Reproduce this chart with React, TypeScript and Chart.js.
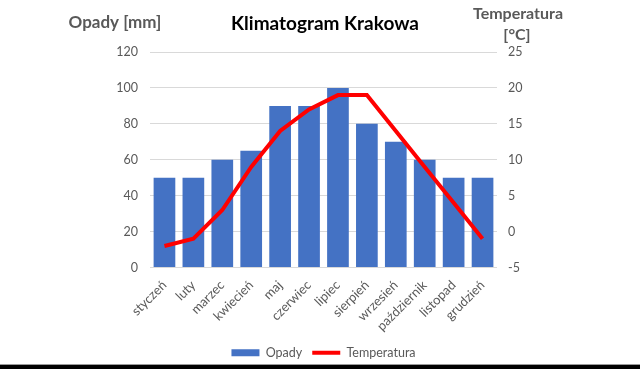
import React, { useEffect, useRef } from "react";
import { Chart, registerables } from "chart.js";

Chart.register(...registerables);

const months = ["styczeń", "luty", "marzec", "kwiecień", "maj", "czerwiec", "lipiec", "sierpień", "wrzesień", "październik", "listopad", "grudzień"];
const precipitation = [50, 50, 60, 65, 90, 90, 100, 80, 70, 60, 50, 50];
const temperature = [-2, -1, 3, 9, 14, 17, 19, 19, 14, 9, 4, -1];
const chartTitle = "Klimatogram Krakowa";
const leftAxisTitle = "Opady [mm]";
const rightAxisTitle = ["Temperatura", "[°C]"];

const FONT = "Lato, 'Open Sans', sans-serif";
const GRAY = "#595959";

const overlayPlugin = {
  id: "overlay",
  afterDraw(chart: any) {
    const ctx = chart.ctx;
    const w = chart.width;
    const h = chart.height;
    ctx.save();
    ctx.textAlign = "center";
    ctx.textBaseline = "alphabetic";
    ctx.fillStyle = "#000000";
    ctx.font = `bold 19px ${FONT}`;
    ctx.fillText(chartTitle, 325, 30);
    ctx.fillStyle = GRAY;
    ctx.font = `bold 17px ${FONT}`;
    ctx.fillText(leftAxisTitle, 115, 28);
    ctx.font = `bold 16px ${FONT}`;
    ctx.fillText(rightAxisTitle[0], 518, 19);
    ctx.fillText(rightAxisTitle[1], 517, 40);
    // bottom frame
    ctx.fillStyle = "#9a9a9a";
    ctx.fillRect(0, h - 5, w, 1);
    ctx.fillStyle = "#000000";
    ctx.fillRect(0, h - 4, w, 4);
    ctx.restore();
  },
};

export default function App() {
  const ref = useRef<HTMLCanvasElement>(null);
  useEffect(() => {
    document.body.style.margin = "0";
    const chart = new Chart(ref.current!, {
      type: "bar",
      data: {
        labels: months,
        datasets: [
          {
            type: "line",
            label: "Temperatura",
            data: temperature,
            yAxisID: "y1",
            borderColor: "#FF0000",
            backgroundColor: "#FF0000",
            borderWidth: 4,
            pointRadius: 0,
            pointStyle: "line",
            tension: 0,
            order: 0,
          } as any,
          {
            type: "bar",
            label: "Opady",
            data: precipitation,
            yAxisID: "y",
            backgroundColor: "#4472C4",
            borderWidth: 0,
            pointStyle: "rect",
            barPercentage: 0.75,
            categoryPercentage: 1,
            order: 1,
          } as any,
        ],
      },
      options: {
        responsive: false,
        animation: false,
        layout: { padding: { top: 52, left: 110, right: 103, bottom: 0 } },
        plugins: {
          title: { display: false },
          tooltip: { enabled: false },
          legend: {
            position: "bottom",
            reverse: true,
            labels: {
              usePointStyle: true,
              pointStyleWidth: 28,
              boxHeight: 7,
              padding: 10,
              color: GRAY,
              font: { family: FONT, size: 12.5 },
            },
          },
        },
        scales: {
          x: {
            grid: { display: false },
            border: { display: false },
            ticks: {
              color: GRAY,
              font: { family: FONT, size: 13 },
              minRotation: 45,
              maxRotation: 45,
              padding: 2,
            },
            afterFit: (s: any) => {
              s.height = 69;
            },
          },
          y: {
            position: "left",
            min: 0,
            max: 120,
            ticks: { stepSize: 20, color: GRAY, font: { family: FONT, size: 12.5 }, padding: 12 },
            grid: { color: "#D9D9D9", lineWidth: 1, drawTicks: false },
            border: { display: false },
            afterFit: (s: any) => {
              s.width = 40;
            },
          },
          y1: {
            position: "right",
            min: -5,
            max: 25,
            ticks: { stepSize: 5, color: GRAY, font: { family: FONT, size: 12.5 }, padding: 11 },
            grid: { drawOnChartArea: false, drawTicks: false },
            border: { display: false },
            afterFit: (s: any) => {
              s.width = 40;
            },
          },
        },
      },
      plugins: [overlayPlugin],
    });
    return () => chart.destroy();
  }, []);
  return (
    <div style={{ width: 640, height: 369, background: "#fff" }}>
      <canvas ref={ref} width={640} height={369} style={{ display: "block" }} />
    </div>
  );
}
